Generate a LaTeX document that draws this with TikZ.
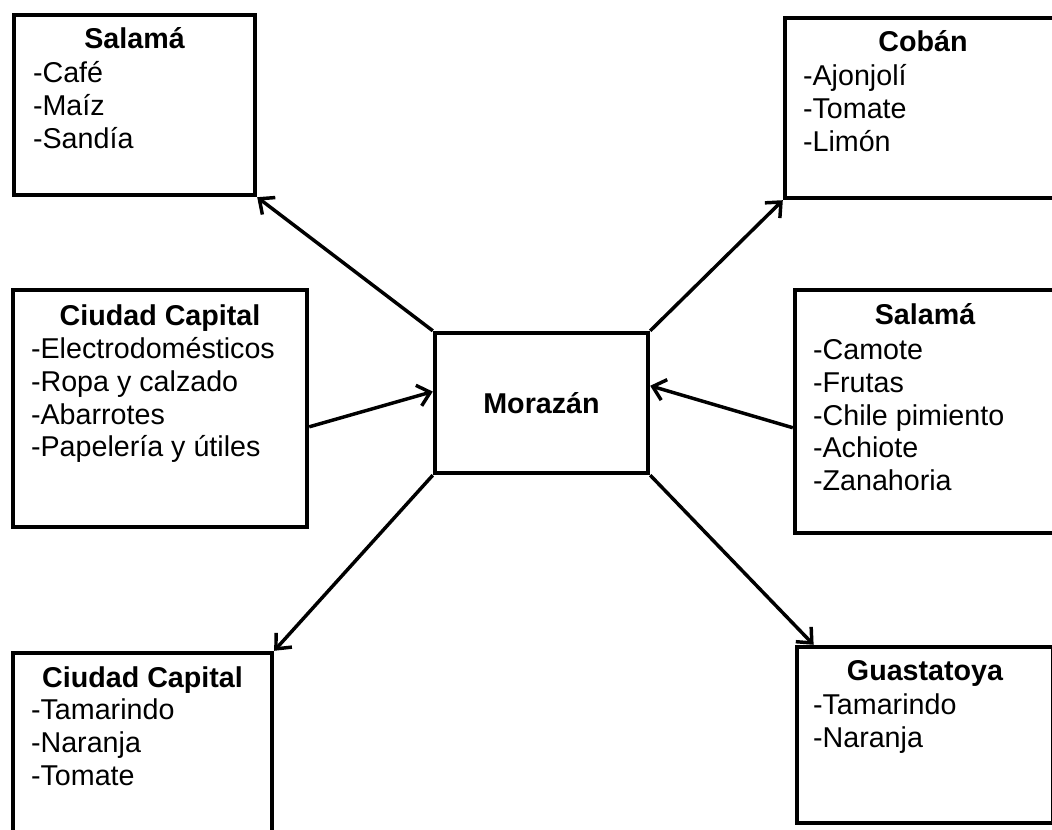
\documentclass[tikz,border=0pt]{standalone}
\usepackage{fontspec}
\setmainfont{Liberation Sans}
\usepackage{tikz}
\usetikzlibrary{calc, arrows.meta, positioning}
\newcommand{\boxfont}{\fontsize{21.5pt}{24.5pt}\selectfont}
\newcommand{\itemlist}[1]{\begin{tabular}[t]{@{}l@{}}#1\end{tabular}}
\tikzset{
  zone/.style 2 args={draw, line width=3.3pt, minimum width=#1*0.75pt, minimum height=#2*0.75pt, inner sep=0pt},
  zonetitle/.style={anchor=base, inner sep=0pt, font=\boxfont\bfseries},
  zoneitems/.style={anchor=base west, inner sep=0pt, font=\boxfont},
  flow/.style={line width=2.6pt, -{Straight Barb[length=9pt,width=16pt]}}
}

\begin{document}
\begin{tikzpicture}[x=0.75pt, y=-0.75pt]
\useasboundingbox (0,0) rectangle (1052,830);
\clip (0,0) rectangle (1052,830);
% central node
\node[zone={213}{140}, font=\boxfont\bfseries] (moraz) at (541.5,403) {Morazán};
% boxes
\node[zone={241}{180}] (salA) at (134.5,105) {};
\node[zone={276}{180}] (coban) at (923,108) {};
\node[zone={294}{237}] (capA) at (160,408.5) {};
\node[zone={260}{243}] (salB) at (925,411.5) {};
\node[zone={259}{217}] (capB) at (142.5,761.5) {};
\node[zone={256}{176}] (guast) at (925,735) {};
% titles
\node[zonetitle] (salAt) at ($(salA.north)+(0,36)$) {Salamá};
\node[zonetitle] (cobant) at ($(coban.north)+(0,36)$) {Cobán};
\node[zonetitle] (capAt) at ($(capA.north)+(0,38)$) {Ciudad Capital};
\node[zonetitle] (salBt) at ($(salB.north)+(0,37)$) {Salamá};
\node[zonetitle] (capBt) at ($(capB.north)+(0,37)$) {Ciudad Capital};
\node[zonetitle] (guastt) at ($(guast.north)+(0,36)$) {Guastatoya};
% lists
\node[zoneitems] (salAl) at ($(salA.north west)+(21,70)$) {\itemlist{-Café\\-Maíz\\-Sandía}};
\node[zoneitems] (cobanl) at ($(coban.north west)+(20,70)$) {\itemlist{-Ajonjolí\\-Tomate\\-Limón}};
\node[zoneitems] (capAl) at ($(capA.north west)+(20,71)$) {\itemlist{-Electrodomésticos\\-Ropa y calzado\\-Abarrotes\\-Papelería y útiles}};
\node[zoneitems] (salBl) at ($(salB.north west)+(20,72)$) {\itemlist{-Camote\\-Frutas\\-Chile pimiento\\-Achiote\\-Zanahoria}};
\node[zoneitems] (capBl) at ($(capB.north west)+(20,69)$) {\itemlist{-Tamarindo\\-Naranja\\-Tomate}};
\node[zoneitems] (guastl) at ($(guast.north west)+(18,70)$) {\itemlist{-Tamarindo\\-Naranja}};
% arrows
\draw[flow] (moraz.north west) -- (salA.south east);
\draw[flow] (moraz.north east) -- (coban.south west);
\draw[flow] (capA.-7.6) -- (moraz.174);
\draw[flow] (salB.187) -- (moraz.9);
\draw[flow] (moraz.south west) -- (capB.north east);
\draw[flow] (moraz.south east) -- (guast.141.8);
\end{tikzpicture}
\end{document}
